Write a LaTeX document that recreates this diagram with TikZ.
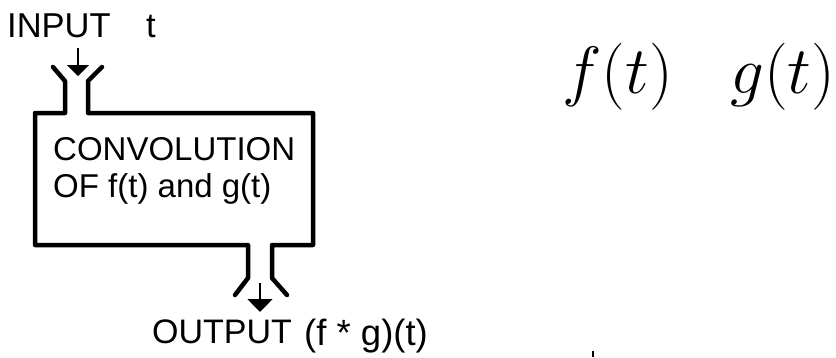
\RequirePackage{fix-cm}
\documentclass[tikz,border=0pt]{standalone}
\usepackage[no-math]{fontspec}
\newfontfamily\arialf{Liberation Sans}
\usetikzlibrary{arrows.meta}
\tikzset{
  lbl/.style={inner sep=0pt, anchor=base west, font=\arialf\fontsize{33}{40}\selectfont},
  bigmath/.style={inner sep=0pt, anchor=base west, font=\fontsize{67}{80}\selectfont},
  pipe/.style={line width=4.5pt, line join=round, line cap=round},
  sig/.style={line width=1.5pt}
}
\begin{document}
\begin{tikzpicture}[x=1pt,y=-1pt]
\useasboundingbox (0,0) rectangle (836,357);
% labels
\node[lbl, font=\arialf\fontsize{34.5}{40}\selectfont] (inp) at (7,37) {INPUT};
\node[lbl, font=\arialf\fontsize{34.5}{40}\selectfont] (tin) at (146,37) {t};
\node[lbl] (conv1) at (53,160) {CONVOLUTION};
\node[lbl] (conv2) at (53,197) {OF f(t) and g(t)};
\node[lbl, font=\arialf\fontsize{34}{42}\selectfont] (outp) at (152,343) {OUTPUT};
\node[lbl, font=\arialf\fontsize{36.5}{44}\selectfont] (fg) at (304,345) {(f * g)(t)};
\node[bigmath] (ft) at (562,93) {$f(t)$};
\node[bigmath] (gt) at (730,93) {$g(t)$};
% box with funnels
\coordinate (la1) at (53,67);
\coordinate (la2) at (65,81);
\coordinate (la3) at (65,113);
\coordinate (tl) at (35,113);
\coordinate (bl) at (35,245);
\coordinate (lb1) at (248,245);
\coordinate (lb2) at (248,278);
\coordinate (lb3) at (235,295);
\coordinate (ra1) at (102,67);
\coordinate (ra2) at (88,81);
\coordinate (ra3) at (88,113);
\coordinate (tr) at (313,113);
\coordinate (br) at (313,245);
\coordinate (rb1) at (272,245);
\coordinate (rb2) at (272,278);
\coordinate (rb3) at (287,295);
\draw[pipe] (la1) -- (la2) -- (la3) -- (tl) -- (bl) -- (lb1) -- (lb2) -- (lb3);
\draw[pipe] (ra1) -- (ra2) -- (ra3) -- (tr) -- (br) -- (rb1) -- (rb2) -- (rb3);
% signal arrows
\coordinate (ia) at (78,48);
\coordinate (ib) at (78,76);
\coordinate (oa) at (260,283);
\coordinate (ob) at (260,312);
\draw[sig, -{Triangle[width=22pt,length=11pt]}] (ia) -- (ib);
\draw[sig, -{Triangle[width=25pt,length=13pt]}] (oa) -- (ob);
% small tick at bottom
\coordinate (tk1) at (593,351);
\coordinate (tk2) at (593,357);
\draw[line width=2pt] (tk1) -- (tk2);
\end{tikzpicture}
\end{document}
